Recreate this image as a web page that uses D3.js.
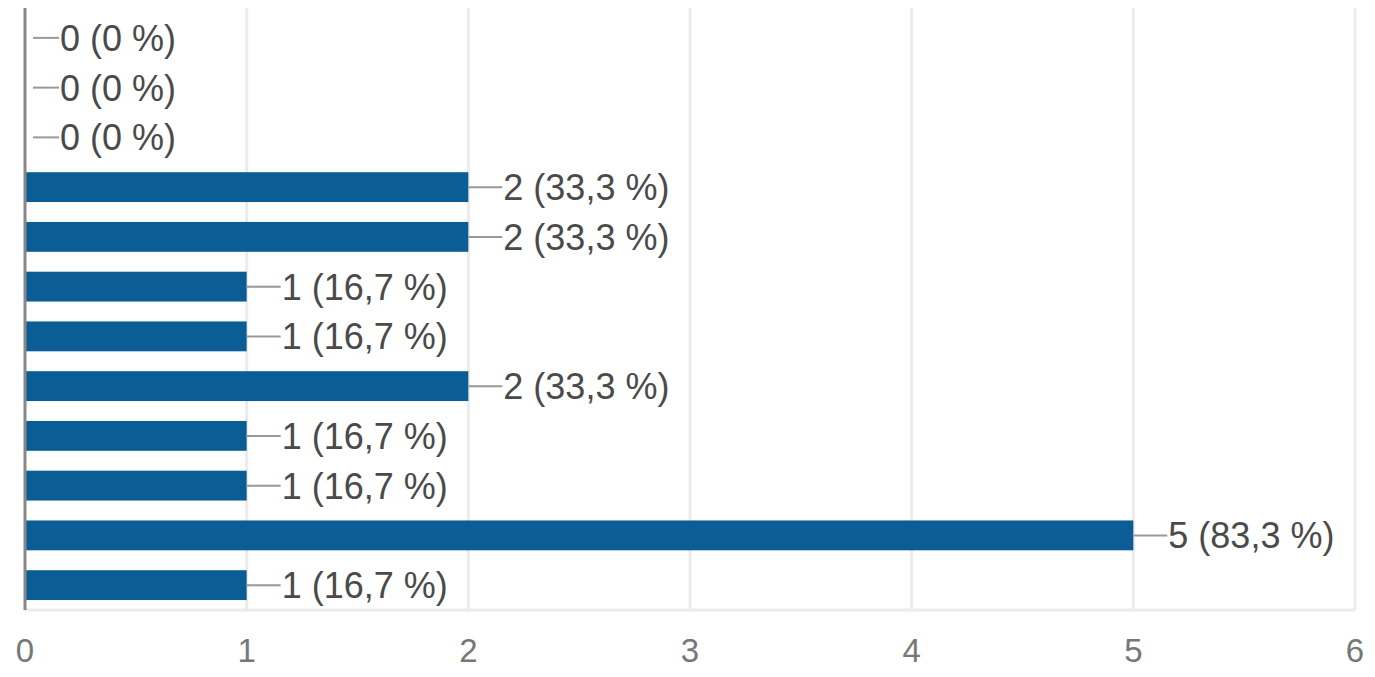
<!DOCTYPE html>
<meta charset="utf-8">
<style>
body { margin: 0; background: #fff; }
svg { display: block; }
</style>
<script src="https://d3js.org/d3.v7.min.js"></script>
<body>
<div id="chart"></div>
<script>
// data
var counts   = [0, 0, 0, 2, 2, 1, 1, 2, 1, 1, 5, 1];
var percents = ["0 %", "0 %", "0 %", "33,3 %", "33,3 %", "16,7 %", "16,7 %", "33,3 %", "16,7 %", "16,7 %", "83,3 %", "16,7 %"];
var ticks    = [0, 1, 2, 3, 4, 5, 6];

var W = 1375, H = 677;
var pLeft = 25, pRight = 1355, pTop = 13, pBottom = 610;

var svg = d3.select("#chart").append("svg")
    .attr("width", W).attr("height", H);

var x = d3.scaleLinear().domain([0, 6]).range([pLeft, pRight]);
var y = d3.scaleBand().domain(d3.range(counts.length))
    .range([pTop, pBottom]).paddingInner(0.4).paddingOuter(0.2);

// grid
svg.append("g").selectAll("line").data(ticks.slice(1)).enter().append("line")
    .attr("x1", d => x(d)).attr("x2", d => x(d))
    .attr("y1", 8).attr("y2", pBottom)
    .attr("stroke", "#ebebeb").attr("stroke-width", 3);
svg.append("line")
    .attr("x1", pLeft).attr("x2", pRight)
    .attr("y1", pBottom).attr("y2", pBottom)
    .attr("stroke", "#ebebeb").attr("stroke-width", 3);

// bars
svg.append("g").selectAll("rect").data(counts).enter().append("rect")
    .attr("x", x(0))
    .attr("y", (d, i) => y(i))
    .attr("width", d => x(d) - x(0))
    .attr("height", y.bandwidth())
    .attr("fill", "#0b5e95");

// leader lines + labels
var lab = svg.append("g").selectAll("g").data(counts).enter().append("g")
    .attr("transform", (d, i) => "translate(" + x(d) + "," + (y(i) + y.bandwidth() / 2) + ")");
lab.append("line")
    .attr("x1", d => d === 0 ? 8 : 0).attr("x2", 34)
    .attr("y1", 0).attr("y2", 0)
    .attr("stroke", "#999").attr("stroke-width", 2);
lab.append("text")
    .attr("x", 35).attr("dy", "0.36em")
    .attr("font-family", "Liberation Sans, Arial, sans-serif")
    .attr("font-size", 36)
    .attr("fill", "#4a4a4a")
    .text((d, i) => d + " (" + percents[i] + ")");

// y axis line
svg.append("line")
    .attr("x1", pLeft).attr("x2", pLeft)
    .attr("y1", 8).attr("y2", pBottom)
    .attr("stroke", "#888").attr("stroke-width", 3);

// x tick labels
svg.append("g").selectAll("text").data(ticks).enter().append("text")
    .attr("x", d => x(d)).attr("y", 650).attr("dy", "0.36em")
    .attr("text-anchor", "middle")
    .attr("font-family", "Liberation Sans, Arial, sans-serif")
    .attr("font-size", 33)
    .attr("fill", "#777")
    .text(d => d);
</script>
</body>
